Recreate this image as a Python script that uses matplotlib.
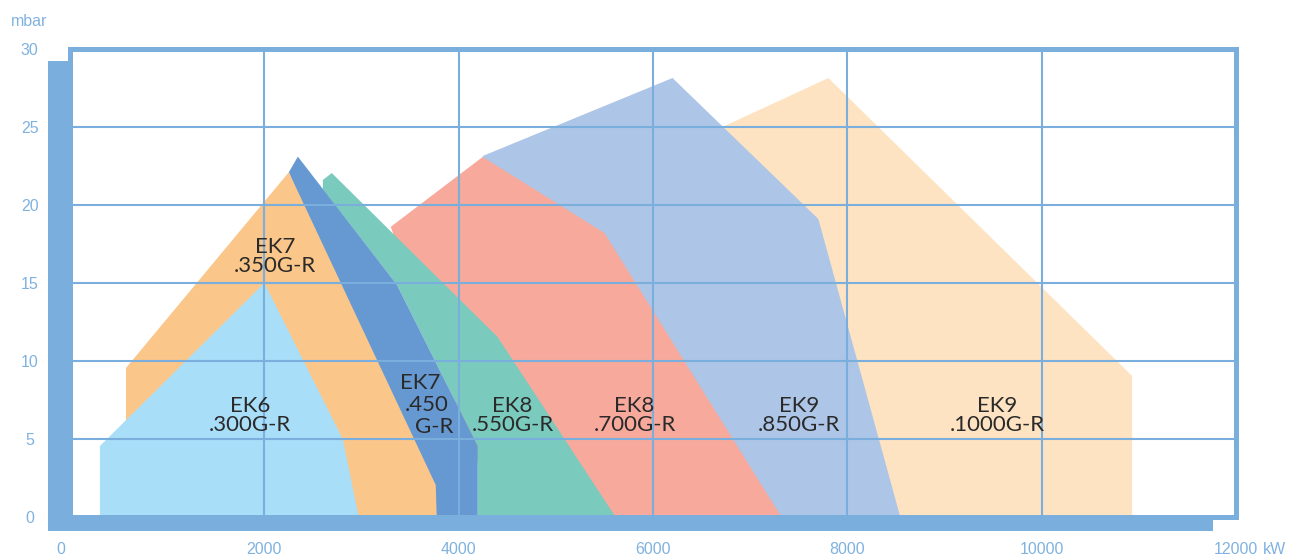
import matplotlib.pyplot as plt
from matplotlib.patches import Rectangle
from matplotlib.transforms import ScaledTranslation

# burner working ranges, output in kW vs pressure in mbar
ek9_1000_x = [8000, 6735, 7805, 10931, 10931]
ek9_1000_y = [0, 25.06, 28.14, 9.04, 0]
ek9_850_x = [5500, 4247, 6201, 7702, 8545]
ek9_850_y = [0, 23.14, 28.14, 19.1, 0]
ek8_700_x = [4400, 3301, 4247, 5501, 7322]
ek8_700_y = [0, 18.6, 23.08, 18.2, 0]
ek8_550_x = [4196, 4196, 3363, 2602, 2602, 2694, 4401, 5615]
ek8_550_y = [0, 4.55, 14.9, 21.0, 21.6, 22.05, 11.54, 0]
ek7_450_x = [3774, 2252, 2345, 3363, 4196, 4196]
ek7_450_y = [0, 22.1, 23.1, 14.9, 4.55, 0]
ek7_350_x = [576, 576, 2252, 3764, 3774]
ek7_350_y = [0, 9.55, 22.1, 2.05, 0]
ek6_300_x = [308, 308, 2000, 2807, 2972]
ek6_300_y = [0, 4.55, 15.0, 5.0, 0]

x_ticks = [0, 2000, 4000, 6000, 8000, 10000, 12000]
y_ticks = [0, 5, 10, 15, 20, 25, 30]

W, H = 1301, 558
blue = '#7aaedc'
txt_c = '#2a2a2a'
tick_c = '#80b2df'

fig = plt.figure(figsize=(W / 100, H / 100), dpi=100)
ax = fig.add_axes([70 / W, 1 - 517 / H, (1236 - 70) / W, (517 - 49) / H])

ax.fill(ek9_1000_x, ek9_1000_y, color='#fee3c2', lw=0)
ax.fill(ek9_850_x, ek9_850_y, color='#adc5e6', lw=0)
ax.fill(ek8_700_x, ek8_700_y, color='#f7a99c', lw=0)
ax.fill(ek8_550_x, ek8_550_y, color='#7acbbd', lw=0)
ax.fill(ek7_450_x, ek7_450_y, color='#6699d2', lw=0)
ax.fill(ek7_350_x, ek7_350_y, color='#fbc689', lw=0)
ax.fill(ek6_300_x, ek6_300_y, color='#a9def9', lw=0)

# labels
lab_kw = dict(family='Lato', fontsize=16, color=txt_c, ha='center', va='center',
              linespacing=0.92)
ax.text(1851, 6.5, 'EK6\n.300G-R', **lab_kw)
ax.text(2108, 16.7, 'EK7\n.350G-R', **lab_kw)
ax.text(3609, 8.56, 'EK7', **lab_kw)
ax.text(3671, 7.18, '.450', **lab_kw)
ax.text(3743, 5.8, 'G-R', **lab_kw)
ax.text(4555, 6.5, 'EK8\n.550G-R', **lab_kw)
ax.text(5810, 6.5, 'EK8\n.700G-R', **lab_kw)
ax.text(7506, 6.5, 'EK9\n.850G-R', **lab_kw)
ax.text(9543, 6.5, 'EK9\n.1000G-R', **lab_kw)

ax.set_xlim(0, 12000)
ax.set_ylim(0, 30)
ax.set_xticks(x_ticks)
ax.set_yticks(y_ticks)
ax.set_xticklabels([str(v) for v in x_ticks])
ax.set_yticklabels([str(v) for v in y_ticks])
ax.grid(True, color=blue, lw=1.5)
ax.set_axisbelow(False)
for sp in ax.spines.values():
    sp.set_color(blue)
    sp.set_linewidth(3.6)

tick_font = dict(family='Liberation Sans', size=11.5)
ax.tick_params(axis='both', length=0, labelcolor=tick_c)
ax.tick_params(axis='y', pad=29)
ax.tick_params(axis='x', pad=18)
for lab in ax.get_yticklabels():
    lab.set_ha('center')
    lab.set_fontproperties(tick_font)
for lab in ax.get_xticklabels():
    lab.set_fontproperties(tick_font)
lab0 = ax.get_xticklabels()[0]
lab0.set_transform(lab0.get_transform() + ScaledTranslation(-0.09, 0, fig.dpi_scale_trans))

ax.annotate('kW', xy=(1, 0), xycoords='axes fraction', xytext=(19, -18),
            textcoords='offset points', ha='left', va='top', color=tick_c,
            family='Liberation Sans', fontsize=11.5)
fig.text(29.5 / W, 1 - 21 / H, 'mbar', ha='center', va='center', color=tick_c,
         family='Liberation Sans', fontsize=11.5)

# thick bars along left and bottom edges
fig.patches.append(Rectangle((48 / W, 1 - 531 / H), 24 / W, (531 - 61) / H,
                             transform=fig.transFigure, color=blue, lw=0))
fig.patches.append(Rectangle((48 / W, 1 - 531 / H), (1213 - 48) / W, 14 / H,
                             transform=fig.transFigure, color=blue, lw=0))

fig.savefig('out.png', dpi=100)
